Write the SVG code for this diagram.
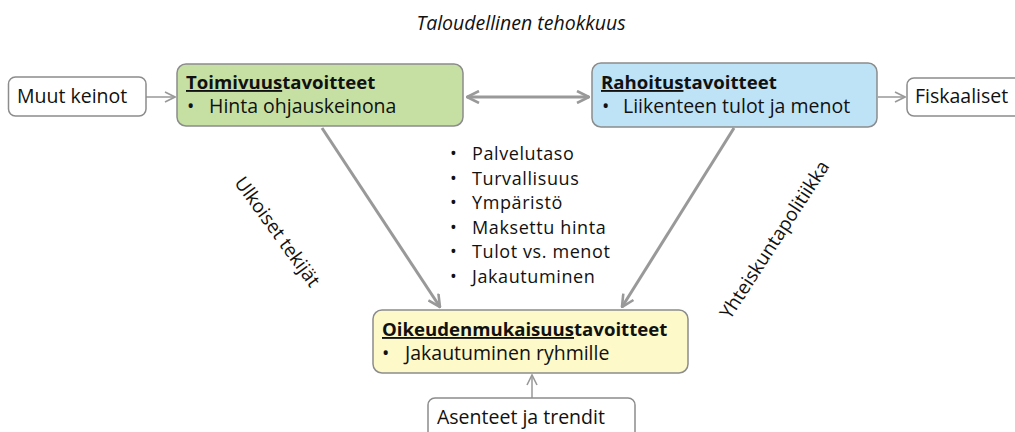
<svg xmlns="http://www.w3.org/2000/svg" width="1015" height="432" viewBox="0 0 1015 432">
  <defs>
    <marker id="chev" viewBox="0 0 12 12" refX="11" refY="6" markerWidth="12" markerHeight="12" markerUnits="userSpaceOnUse" orient="auto-start-reverse">
      <path d="M1,1 L11,6 L1,11" fill="none" stroke="#999999" stroke-width="1.6"/>
    </marker>
    <marker id="chevBig" viewBox="0 0 14 14" refX="13" refY="7" markerWidth="14" markerHeight="14" markerUnits="userSpaceOnUse" orient="auto-start-reverse">
      <path d="M1,1 L13,7 L1,13" fill="none" stroke="#999999" stroke-width="2.6"/>
    </marker>
  </defs>
  <style>
    text { font-family: "Open Sans", "Noto Sans", "Liberation Sans", sans-serif; fill: #111111; font-size: 19.5px; }
    .box { stroke: #8c8c8c; stroke-width: 1.5; }
    .plain { fill: #ffffff; }
    .green { fill: #c6e0a4; }
    .blue { fill: #bfe3f6; }
    .yellow { fill: #fdf9c8; }
    .head { font-weight: bold; font-size: 18.6px; }
    .ul { text-decoration: underline; }
    .side { font-size: 19px; }
    .list { font-size: 18px; letter-spacing: 0.6px; }
    .thin { stroke: #999999; stroke-width: 1.5; fill: none; }
    .thick { stroke: #999999; stroke-width: 3; fill: none; }
  </style>
  <rect width="1015" height="432" fill="#ffffff"/>

  <text x="521" y="30" text-anchor="middle" font-style="italic" font-size="18">Taloudellinen tehokkuus</text>

  <g id="connectors">
    <line class="thin" x1="146" y1="97" x2="175" y2="97" marker-end="url(#chev)"/>
    <line class="thick" x1="467" y1="97" x2="589" y2="97" marker-start="url(#chevBig)" marker-end="url(#chevBig)"/>
    <line class="thin" x1="878" y1="97" x2="905" y2="97" marker-end="url(#chev)"/>
    <line class="thick" x1="322" y1="128" x2="440" y2="307" marker-end="url(#chevBig)"/>
    <line class="thick" x1="734" y1="128" x2="622" y2="307" marker-end="url(#chevBig)"/>
    <line class="thin" x1="532" y1="398" x2="532" y2="375" marker-end="url(#chev)"/>
  </g>

  <g id="muut-keinot">
    <rect class="box plain" x="8.5" y="77" width="137.5" height="39" rx="7"/>
    <text x="17" y="103">Muut keinot</text>
  </g>

  <g id="toimivuus">
    <rect class="box green" x="177" y="64" width="286" height="62" rx="9"/>
    <text x="186" y="89" class="head"><tspan class="ul">Toimivuus</tspan>tavoitteet</text>
    <text x="187" y="113">•</text>
    <text x="209" y="113">Hinta ohjauskeinona</text>
  </g>

  <g id="rahoitus">
    <rect class="box blue" x="592" y="63" width="285" height="64" rx="9"/>
    <text x="601" y="89" class="head"><tspan class="ul">Rahoitus</tspan>tavoitteet</text>
    <text x="602" y="113">•</text>
    <text x="623" y="113">Liikenteen tulot ja menot</text>
  </g>

  <g id="fiskaaliset">
    <rect class="box plain" x="907" y="78" width="120" height="38" rx="7"/>
    <text x="915" y="103">Fiskaaliset</text>
  </g>

  <g id="kriteerit" class="list">
    <text class="list" x="450" y="160">•</text><text class="list" x="472" y="160">Palvelutaso</text>
    <text class="list" x="450" y="184.6">•</text><text class="list" x="472" y="184.6">Turvallisuus</text>
    <text class="list" x="450" y="209.2">•</text><text class="list" x="472" y="209.2">Ympäristö</text>
    <text class="list" x="450" y="233.8">•</text><text class="list" x="472" y="233.8">Maksettu hinta</text>
    <text class="list" x="450" y="258.4">•</text><text class="list" x="472" y="258.4">Tulot vs. menot</text>
    <text class="list" x="450" y="283">•</text><text class="list" x="472" y="283">Jakautuminen</text>
  </g>

  <g id="oikeudenmukaisuus">
    <rect class="box yellow" x="373" y="310" width="315" height="63" rx="9"/>
    <text x="382" y="336" class="head"><tspan class="ul">Oikeudenmukaisuus</tspan>tavoitteet</text>
    <text x="382" y="360">•</text>
    <text x="405" y="360">Jakautuminen ryhmille</text>
  </g>

  <g id="asenteet">
    <rect class="box plain" x="428" y="398" width="207" height="42" rx="7"/>
    <text x="437" y="424">Asenteet ja trendit</text>
  </g>

  <g id="ulkoiset">
    <text class="side" transform="translate(277,232) rotate(54)" text-anchor="middle" dy="6">Ulkoiset tekijät</text>
  </g>

  <g id="yhteiskuntapolitiikka">
    <text class="side" transform="translate(775,240) rotate(-57)" text-anchor="middle" dy="6">Yhteiskuntapolitiikka</text>
  </g>
</svg>
